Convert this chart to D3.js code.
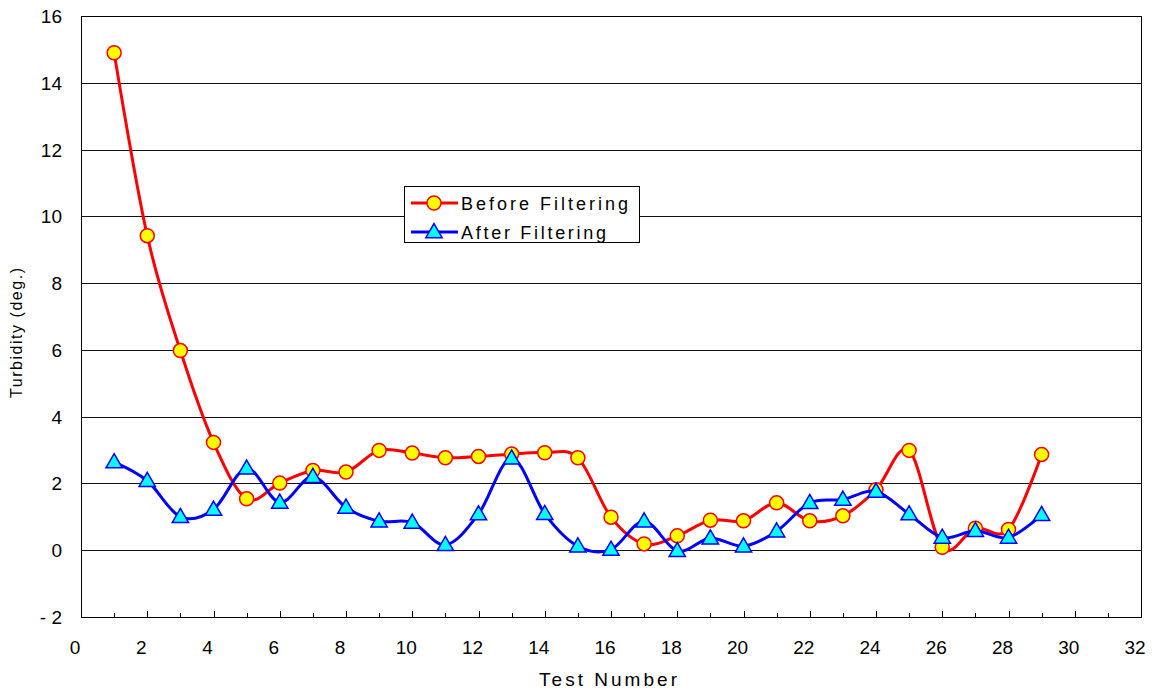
<!DOCTYPE html>
<html>
<head>
<meta charset="utf-8">
<script src="https://cdn.jsdelivr.net/npm/d3@7"></script>
<style>
  body { margin: 0; background: #fff; }
  svg { display: block; font-family: "Liberation Sans", Arial, sans-serif; }
</style>
</head>
<body>
<script>
// test numbers on the x axis
const tests = d3.range(1, 30);

// turbidity readings before the filter
const before = [
  14.9, 9.42, 5.98, 3.23, 1.54, 2.01, 2.39, 2.34, 2.99, 2.91,
  2.77, 2.81, 2.88, 2.92, 2.77, 0.99, 0.19, 0.43, 0.9, 0.88,
  1.42, 0.88, 1.03, 1.81, 2.99, 0.09, 0.66, 0.62, 2.87
];

// turbidity readings after the filter
const after = [
  2.64, 2.08, 1.0, 1.22, 2.45, 1.43, 2.2, 1.28, 0.87, 0.83,
  0.16, 1.08, 2.75, 1.09, 0.12, 0.02, 0.87, -0.02, 0.36, 0.12,
  0.57, 1.42, 1.52, 1.76, 1.08, 0.38, 0.58, 0.38, 1.06
];

// axis ticks
const xTicks = d3.range(0, 33, 2);
const xMinorTicks = d3.range(1, 32, 2);
const yTicks = d3.range(-2, 17, 2);

const seriesNames = ["Before Filtering", "After Filtering"];

// canvas size
const width = 1157;
const height = 692;
const plotLeft = 81;
const plotRight = 1141;
const plotTop = 16;
const plotBottom = 617;

const svg = d3
  .select("body")
  .append("svg")
  .attr("width", width)
  .attr("height", height);

// scales
const xScale = d3.scaleLinear().domain([0, 32]).range([plotLeft, plotRight]);
const yScale = d3.scaleLinear().domain([-2, 16]).range([plotBottom, plotTop]);

// horizontal grid lines
svg
  .append("g")
  .selectAll("line")
  .data(yTicks.filter((d) => d > -2 && d < 16))
  .enter()
  .append("line")
  .attr("x1", plotLeft)
  .attr("x2", plotRight)
  .attr("y1", (d) => Math.round(yScale(d)) + 0.5)
  .attr("y2", (d) => Math.round(yScale(d)) + 0.5)
  .attr("stroke", "#111")
  .attr("stroke-width", 1);

// plot frame
svg
  .append("rect")
  .attr("x", plotLeft + 0.5)
  .attr("y", plotTop + 0.5)
  .attr("width", plotRight - plotLeft)
  .attr("height", plotBottom - plotTop)
  .attr("fill", "none")
  .attr("stroke", "#000")
  .attr("stroke-width", 1);

// x axis ticks pointing up into the plot
const xAxis = svg.append("g").attr("class", "x-axis");
xAxis
  .selectAll("line.major")
  .data(xTicks)
  .enter()
  .append("line")
  .attr("class", "major")
  .attr("x1", (d) => Math.round(xScale(d)) + 0.5)
  .attr("x2", (d) => Math.round(xScale(d)) + 0.5)
  .attr("y1", plotBottom)
  .attr("y2", plotBottom - 6)
  .attr("stroke", "#000");
xAxis
  .selectAll("line.minor")
  .data(xMinorTicks)
  .enter()
  .append("line")
  .attr("class", "minor")
  .attr("x1", (d) => Math.round(xScale(d)) + 0.5)
  .attr("x2", (d) => Math.round(xScale(d)) + 0.5)
  .attr("y1", plotBottom)
  .attr("y2", plotBottom - 4)
  .attr("stroke", "#000");
xAxis
  .selectAll("text")
  .data(xTicks)
  .enter()
  .append("text")
  .attr("x", (d) => xScale(d) - 6)
  .attr("y", 654)
  .attr("text-anchor", "middle")
  .style("font-size", "19px")
  .text((d) => d);

// y axis labels
svg
  .append("g")
  .selectAll("text")
  .data(yTicks)
  .enter()
  .append("text")
  .attr("x", 62)
  .attr("y", (d) => yScale(d) + 7)
  .attr("text-anchor", "end")
  .style("font-size", "19px")
  .text((d) => (d < 0 ? "- " + Math.abs(d) : d));

// axis titles
svg
  .append("text")
  .attr("x", 539)
  .attr("y", 686)
  .attr("textLength", 138)
  .attr("lengthAdjust", "spacing")
  .style("font-size", "19px")
  .text("Test Number");

svg
  .append("text")
  .attr("transform", "translate(22,398) rotate(-90)")
  .attr("textLength", 130)
  .attr("lengthAdjust", "spacing")
  .style("font-size", "16px")
  .text("Turbidity (deg.)");

// smoothed lines like the spreadsheet
const line = d3
  .line()
  .curve(d3.curveCatmullRom.alpha(0))
  .x((d, i) => xScale(tests[i]))
  .y((d) => yScale(d));

const tri = d3.symbol().type(d3.symbolTriangle).size(115);

// before series
svg
  .append("path")
  .datum(before)
  .attr("d", line)
  .attr("fill", "none")
  .attr("stroke", "#ff0000")
  .attr("stroke-width", 3);
svg
  .append("g")
  .selectAll("circle")
  .data(before)
  .enter()
  .append("circle")
  .attr("cx", (d, i) => xScale(tests[i]))
  .attr("cy", (d) => yScale(d))
  .attr("r", 7)
  .attr("fill", "#ffff00")
  .attr("stroke", "#ff0000")
  .attr("stroke-width", 1.5);

// after series
svg
  .append("path")
  .datum(after)
  .attr("d", line)
  .attr("fill", "none")
  .attr("stroke", "#0000ff")
  .attr("stroke-width", 3);
svg
  .append("g")
  .selectAll("path")
  .data(after)
  .enter()
  .append("path")
  .attr("d", tri)
  .attr("transform", (d, i) => "translate(" + xScale(tests[i]) + "," + (yScale(d) + 1) + ")")
  .attr("fill", "#00ffff")
  .attr("stroke", "#0000ff")
  .attr("stroke-width", 1.5);

// legend
const legend = svg.append("g").attr("transform", "translate(404,186)");
legend
  .append("rect")
  .attr("x", 0.5)
  .attr("y", 0.5)
  .attr("width", 235)
  .attr("height", 56)
  .attr("fill", "#fff")
  .attr("stroke", "#000");

const rows = legend
  .selectAll("g.row")
  .data(seriesNames)
  .enter()
  .append("g")
  .attr("class", "row")
  .attr("transform", (d, i) => "translate(0," + (17 + i * 29) + ")");

rows
  .append("line")
  .attr("x1", 7)
  .attr("x2", 54)
  .attr("stroke", (d, i) => (i === 0 ? "#ff0000" : "#0000ff"))
  .attr("stroke-width", 3);

rows
  .filter((d, i) => i === 0)
  .append("circle")
  .attr("cx", 30)
  .attr("r", 7)
  .attr("fill", "#ffff00")
  .attr("stroke", "#ff0000")
  .attr("stroke-width", 1.5);

rows
  .filter((d, i) => i === 1)
  .append("path")
  .attr("d", tri)
  .attr("transform", "translate(30,1)")
  .attr("fill", "#00ffff")
  .attr("stroke", "#0000ff")
  .attr("stroke-width", 1.5);

rows
  .append("text")
  .attr("x", 57)
  .attr("y", 7)
  .attr("textLength", (d, i) => (i === 0 ? 167 : 145))
  .attr("lengthAdjust", "spacing")
  .style("font-size", "18px")
  .text((d) => d);
</script>
</body>
</html>
